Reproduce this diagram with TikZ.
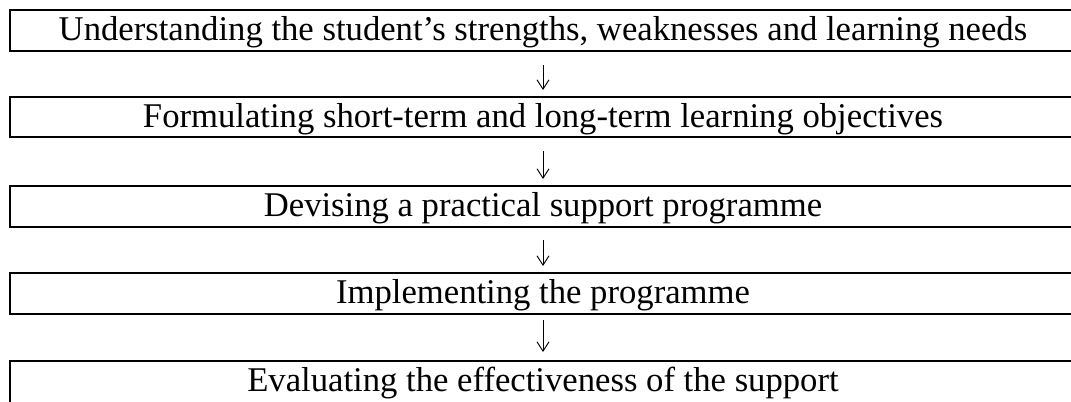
\documentclass[tikz,border=0pt]{standalone}
\usepackage{fontspec}
\setmainfont{Liberation Serif}
\usetikzlibrary{arrows.meta}
\begin{document}
\begin{tikzpicture}[x=0.75pt,y=-0.75pt,
  boxline/.style={line width=1.5pt},
  label/.style={anchor=base,inner sep=0pt,font=\fontsize{26}{30}\selectfont},
  flow/.style={line width=0.7pt,-{Straight Barb[length=7pt,width=9pt,line width=0.7pt]}}]
\useasboundingbox (0,0) rectangle (1071,401);
% boxes (left side closed, right side cut off)
\draw[boxline] (1072,10) -- (10,10) -- (10,51) -- (1072,51);
\draw[boxline] (1072,97) -- (10,97) -- (10,137) -- (1072,137);
\draw[boxline] (1072,186) -- (10,186) -- (10,227) -- (1072,227);
\draw[boxline] (1072,273) -- (10,273) -- (10,314) -- (1072,314);
\draw[boxline] (1072,361) -- (10,361) -- (10,402);
% texts
\node[label] (t1) at (543,40) {Understanding the student’s strengths, weaknesses and learning needs};
\node[label] (t2) at (543,127) {Formulating short-term and long-term learning objectives};
\node[label] (t3) at (543,216) {Devising a practical support programme};
\node[label] (t4) at (543,303) {Implementing the programme};
\node[label] (t5) at (543,391) {Evaluating the effectiveness of the support};
% connector end points
\coordinate (b1) at (543,65);  \coordinate (a2) at (543,90);
\coordinate (b2) at (543,151); \coordinate (a3) at (543,179);
\coordinate (b3) at (543,240); \coordinate (a4) at (543,266);
\coordinate (b4) at (543,320); \coordinate (a5) at (543,352);
\draw[flow] (b1) -- (a2);
\draw[flow] (b2) -- (a3);
\draw[flow] (b3) -- (a4);
\draw[flow] (b4) -- (a5);
\end{tikzpicture}
\end{document}
